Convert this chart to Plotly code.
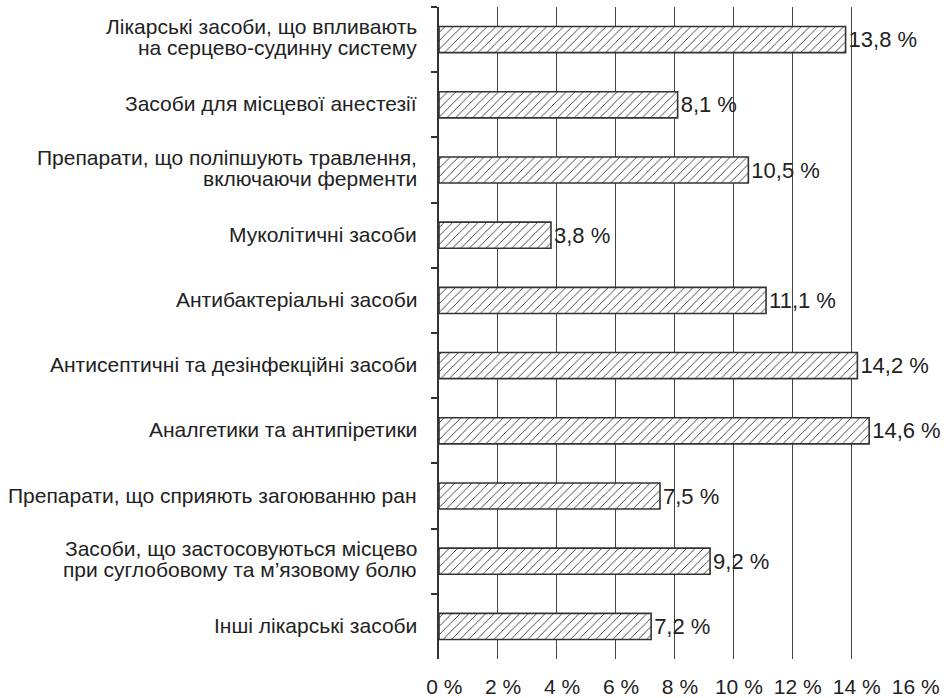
import plotly.graph_objects as go

categories = [
    "Лікарські засоби, що впливають<br>на серцево-судинну систему",
    "Засоби для місцевої анестезії",
    "Препарати, що поліпшують травлення,<br>включаючи ферменти",
    "Муколітичні засоби",
    "Антибактеріальні засоби",
    "Антисептичні та дезінфекційні засоби",
    "Аналгетики та антипіретики",
    "Препарати, що сприяють загоюванню ран",
    "Засоби, що застосовуються місцево<br>при суглобовому та м’язовому болю",
    "Інші лікарські засоби",
]
values = [13.8, 8.1, 10.5, 3.8, 11.1, 14.2, 14.6, 7.5, 9.2, 7.2]
value_labels = ["13,8 %", "8,1 %", "10,5 %", "3,8 %", "11,1 %", "14,2 %", "14,6 %", "7,5 %", "9,2 %", "7,2 %"]
tick_vals = [0, 2, 4, 6, 8, 10, 12, 14, 16]
tick_text = ["0 %", "2 %", "4 %", "6 %", "8 %", "10 %", "12 %", "14 %", "16 %"]

FONT = "Liberation Sans, Arial, sans-serif"
DARK = "#333333"
TXT = "#222222"

fig = go.Figure(
    go.Bar(
        x=values,
        y=categories,
        orientation="h",
        text=value_labels,
        textposition="outside",
        cliponaxis=False,
        textfont=dict(family=FONT, size=22, color=TXT),
        marker=dict(
            color="white",
            line=dict(color=DARK, width=1.6),
            pattern=dict(shape="/", size=6, solidity=0.15, fgcolor="#333333", bgcolor="white"),
        ),
        width=0.4,
    )
)

# category labels: one annotation per text line, for tight leading
annotations = []
for cat in categories:
    lines = cat.split("<br>")
    shifts = [1] if len(lines) == 1 else [13, -8]
    for line, ys in zip(lines, shifts):
        annotations.append(dict(
            x=0, xref="paper", y=cat, yref="y",
            text=line, showarrow=False,
            xanchor="right", yanchor="middle",
            xshift=-20, yshift=ys,
            font=dict(family=FONT, size=21, color=TXT),
        ))

fig.update_layout(
    template="none",
    width=944,
    height=698,
    margin=dict(l=439, r=33, t=7, b=39, autoexpand=False),
    paper_bgcolor="white",
    plot_bgcolor="white",
    showlegend=False,
    font=dict(family=FONT, size=21, color=TXT),
    annotations=annotations,
)

fig.update_xaxes(
    range=[0, 16.02],
    tickvals=tick_vals,
    ticktext=["\u2002" + t for t in tick_text],
    tickangle=0,
    showgrid=True,
    gridcolor="#444444",
    gridwidth=1.2,
    zeroline=False,
    showline=False,
    ticks="",
    automargin=False,
    ticklabelstandoff=13,
    tickfont=dict(family=FONT, size=21, color=TXT),
)

fig.update_yaxes(
    autorange="reversed",
    showline=True,
    linecolor=DARK,
    linewidth=1.6,
    ticks="outside",
    tickson="boundaries",
    ticklen=6,
    tickcolor=DARK,
    tickwidth=1.6,
    showgrid=False,
    zeroline=False,
    showticklabels=False,
    automargin=False,
)

fig.write_html(
    "out.html",
    config={"displayModeBar": False},
    post_script="document.body.style.margin='0';document.body.style.overflow='hidden';",
)
